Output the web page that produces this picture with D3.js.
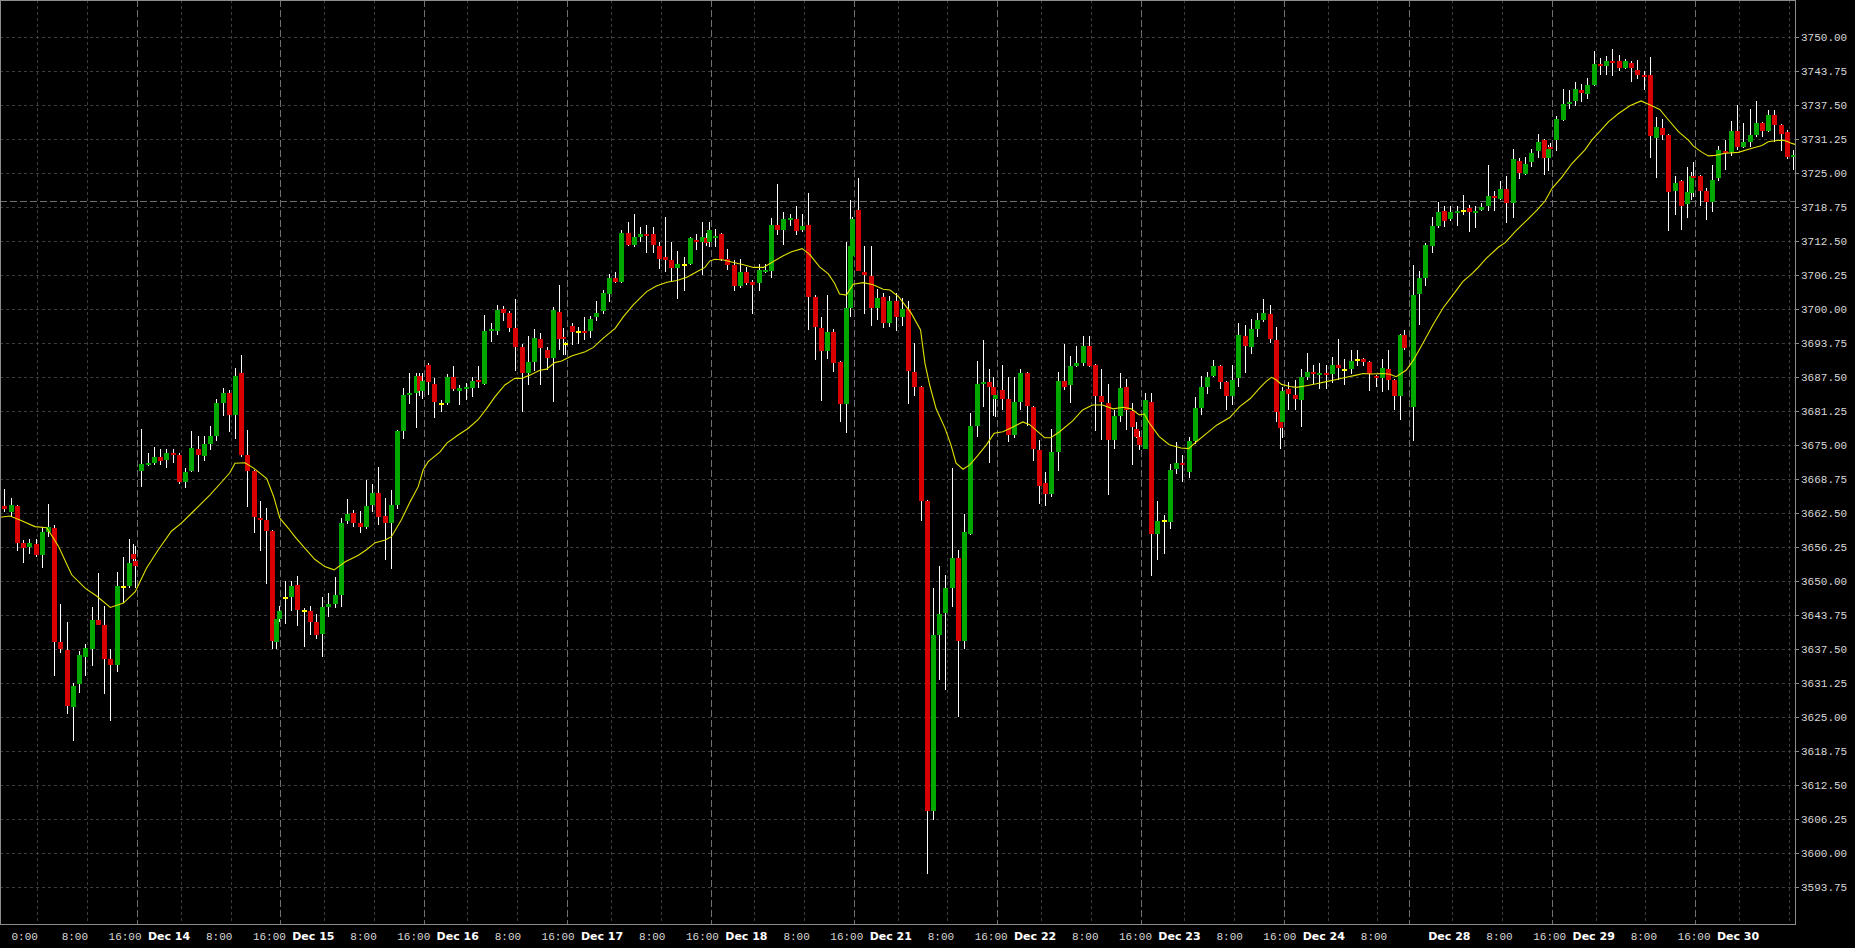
<!DOCTYPE html>
<html><head><meta charset="utf-8">
<script src="https://cdn.jsdelivr.net/npm/d3@7"></script>
<style>
html,body{margin:0;padding:0;background:#000;overflow:hidden}
svg{display:block}
</style></head><body>
<svg id="chart" width="1855" height="948"></svg>
<script>
// ---------------- DATA ----------------
// hourly bars; one extra half-hour bar squeezed before each 16:00 session break
const halfHourBars = [20.6, 43.6, 66.6, 89.6, 112.6, 135.6, 158.6, 181.6, 204.6, 224.6, 247.6, 270.6];
const closedSlots = [225];
const totalSlots = 288;

const opens = [
3663.9,3662.7,3663.9,3657.1,3656.3,3656.9,3654.8,3659.1,3659.8,3638.8,3637.4,3626.8,3631.2,3636.1,3637.6,3642.9,3642.0,3635.7,3634.6,3649.0,3649.1,3655.0,3653.8,
3670.2,3671.4,3671.8,3672.9,3672.3,3673.6,3673.2,3668.3,3670.3,3674.3,3673.1,3675.3,3676.8,3682.8,3684.7,3680.6,3688.2,3673.2,3670.3,3661.7,3661.3,3659.2,3638.9,3643.0,
3647.0,3647.1,3649.3,3644.5,3644.5,3642.6,3640.3,3645.2,3645.8,3647.5,3661.1,3662.5,3660.8,3660.0,3664.0,3666.2,3662.0,3660.8,3664.1,3677.7,3684.3,3684.7,3687.7,3684.9,
3689.8,3686.3,3682.65,3682.8,3687.5,3685.0,3685.35,3685.6,3687.0,3686.3,3696.0,3696.0,3700.05,3699.3,3696.6,3693.1,3688.2,3690.4,3694.5,3692.5,3691.1,3699.5,3694.8,3693.6,
3697.0,3695.8,3695.95,3696.0,3698.6,3699.6,3702.9,3705.75,3705.0,3714.0,3711.8,3713.3,3713.85,3713.85,3711.6,3709.6,3709.1,3707.6,3708.15,3708.3,3712.7,3712.4,3713.2,3712.4,
3713.2,3713.85,3709.2,3708.15,3704.3,3706.9,3705.1,3704.8,3706.9,3707.05,3715.5,3714.6,3716.5,3716.6,3714.6,3715.5,3702.3,3696.6,3692.4,3695.8,3690.3,3682.6,3700.3,3709.8,
3718.3,3706.85,3706.1,3700.3,3702.3,3697.5,3701.5,3698.5,3700.0,3688.5,3685.7,3664.7,3607.8,3640.2,3644.1,3648.8,3654.35,3639.0,3658.7,3678.6,3686.35,3686.7,3685.7,3683.5,
3685.1,3683.5,3676.9,3682.9,3688.3,3682.0,3674.2,3668.0,3666.1,3673.7,3686.9,3686.1,3689.6,3690.2,3693.2,3689.8,3684.0,3682.8,3675.9,3680.4,3685.7,3681.3,3678.05,3676.6,
3674.4,3683.0,3658.7,3661.0,3660.9,3670.6,3671.7,3670.0,3675.8,3681.85,3685.7,3687.7,3689.6,3686.7,3684.1,3687.4,3695.1,3693.1,3696.4,3698.0,3699.1,3694.4,3681.2,3679.2,
3685.35,3684.25,3683.3,3687.6,3688.5,3687.9,3688.2,3688.1,3689.75,3688.8,3689.0,3690.7,3690.9,3690.3,3687.75,3687.4,3689.0,3687.0,3684.1,3695.3,
3682.1,3702.8,3705.75,3711.6,3715.3,3718.1,3716.6,3717.7,3718.1,3718.6,3717.8,3718.3,3718.9,3720.8,3720.3,3722.2,3719.6,3727.2,3724.9,3727.0,3729.1,3731.1,3727.9,3729.8,
3731.1,3734.8,3737.7,3738.3,3740.3,3739.6,3741.2,3745.1,3744.7,3745.6,3745.6,3744.35,3745.3,3744.0,3743.1,3743.1,3731.5,3733.3,3732.0,3721.75,3723.6,3719.4,3721.4,3724.5,
3724.5,3721.7,3719.7,3724.1,3729.1,3728.9,3732.8,3729.8,3730.75,3732.0,3734.2,3732.8,3735.7,3733.9,3732.6,3728.05
];
const highs = [
3667.0,3665.3,3664.0,3657.6,3657.8,3657.7,3659.9,3664.3,3660.4,3645.9,3642.5,3631.3,3637.1,3638.5,3645.3,3651.6,3645.5,3637.6,3651.7,3654.4,3657.7,3656.9,3656.5,
3678.0,3673.6,3674.6,3674.3,3674.3,3674.3,3673.5,3670.8,3677.6,3676.7,3676.7,3678.5,3683.5,3685.5,3685.2,3689.2,3691.6,3677.8,3670.4,3664.8,3663.4,3659.4,3643.1,3645.5,
3650.1,3650.1,3651.0,3645.0,3645.5,3643.9,3647.2,3647.8,3650.7,3661.6,3665.1,3663.1,3663.0,3668.6,3667.9,3671.1,3665.3,3666.8,3677.9,3685.6,3688.2,3688.35,3688.3,3688.2,
3690.2,3687.4,3683.4,3688.1,3689.6,3686.1,3686.4,3687.5,3689.6,3699.0,3697.5,3700.8,3700.6,3699.6,3701.9,3693.6,3695.1,3696.4,3695.6,3693.1,3700.5,3704.5,3696.5,3694.0,
3697.4,3696.8,3698.5,3698.8,3701.5,3703.55,3706.5,3706.9,3714.6,3716.1,3717.5,3715.1,3715.5,3715.1,3712.4,3717.0,3712.4,3710.7,3709.7,3713.3,3713.85,3716.1,3714.0,3716.1,
3714.7,3714.1,3711.1,3709.1,3709.2,3707.85,3705.4,3708.3,3708.3,3716.85,3723.0,3717.8,3717.6,3719.0,3717.6,3721.3,3702.6,3698.6,3702.6,3696.3,3690.5,3712.4,3720.1,3717.0,
3724.1,3711.6,3711.6,3703.7,3703.0,3702.5,3703.0,3702.0,3701.5,3693.8,3685.9,3664.9,3648.7,3652.9,3651.1,3670.9,3655.8,3662.4,3680.9,3690.5,3694.3,3689.1,3687.5,3684.9,
3689.8,3687.6,3687.6,3689.1,3688.5,3682.2,3676.05,3670.1,3678.0,3688.5,3693.6,3691.4,3693.2,3695.1,3695.1,3690.0,3689.1,3686.35,3681.4,3688.3,3687.2,3682.7,3679.3,3677.6,
3684.7,3684.7,3664.8,3662.1,3671.5,3675.6,3673.2,3676.6,3683.8,3687.7,3688.5,3690.7,3689.8,3686.9,3689.8,3697.4,3697.05,3698.2,3699.3,3701.9,3700.8,3696.8,3681.4,3685.8,
3686.7,3687.0,3689.0,3691.9,3689.8,3690.2,3689.8,3691.3,3694.5,3690.9,3692.5,3692.5,3691.0,3690.5,3687.9,3690.9,3692.5,3687.2,3695.5,3696.2,
3708.1,3707.1,3712.1,3717.0,3719.7,3719.0,3719.0,3719.0,3721.0,3719.2,3719.0,3719.5,3726.5,3721.7,3723.6,3724.5,3729.5,3727.8,3728.0,3729.5,3732.2,3731.3,3730.2,3730.5,
3735.5,3740.5,3740.3,3741.7,3741.5,3742.5,3747.5,3746.25,3746.6,3747.85,3746.75,3746.0,3745.6,3745.8,3743.8,3746.4,3735.3,3735.0,3732.2,3724.5,3723.8,3726.1,3725.3,3727.0,
3724.7,3722.3,3726.5,3730.0,3731.2,3734.6,3737.55,3734.3,3736.8,3738.3,3734.4,3736.6,3736.6,3734.1,3733.0,3729.3
];
const lows = [
3662.7,3661.9,3655.5,3653.4,3655.1,3654.4,3652.5,3658.2,3632.6,3636.8,3625.6,3620.7,3629.5,3632.5,3634.4,3641.9,3629.3,3624.4,3633.4,3645.95,3648.7,3653.3,3648.7,
3667.4,3671.2,3671.4,3671.4,3670.8,3671.7,3667.9,3667.2,3670.0,3670.0,3672.2,3674.1,3675.7,3680.4,3677.5,3676.2,3672.9,3663.7,3658.8,3655.5,3649.5,3637.5,3637.5,3642.5,
3642.2,3644.6,3641.8,3638.0,3640.1,3639.3,3636.1,3643.5,3645.0,3645.3,3660.5,3660.0,3658.8,3659.6,3662.8,3660.3,3653.9,3652.2,3663.2,3676.2,3682.6,3678.2,3684.0,3683.6,
3684.2,3680.0,3681.1,3682.4,3684.9,3682.4,3683.3,3683.8,3685.6,3686.0,3693.9,3695.3,3697.9,3695.9,3688.7,3681.2,3686.0,3688.7,3686.1,3688.9,3682.9,3692.6,3691.6,3691.6,
3693.5,3693.6,3694.4,3694.7,3697.9,3699.1,3701.35,3704.8,3704.8,3711.6,3711.5,3712.4,3710.4,3710.4,3707.4,3706.9,3705.0,3701.9,3703.4,3708.1,3710.9,3706.3,3711.6,3711.5,
3711.4,3708.9,3707.2,3703.4,3704.0,3704.5,3699.1,3703.4,3706.6,3705.7,3713.7,3711.8,3715.3,3713.7,3714.3,3696.2,3690.7,3683.2,3690.9,3688.5,3679.2,3677.2,3698.6,3709.5,
3707.0,3699.1,3696.9,3698.0,3696.5,3696.8,3696.0,3697.0,3682.55,3684.0,3661.05,3596.1,3606.1,3631.8,3630.1,3645.2,3625.1,3637.6,3658.5,3676.6,3682.0,3671.7,3680.4,3680.2,
3681.4,3675.6,3676.4,3681.4,3678.5,3672.1,3664.2,3663.8,3665.5,3670.25,3685.25,3682.8,3689.4,3689.6,3689.4,3677.7,3675.9,3665.8,3674.4,3679.3,3677.9,3671.4,3676.3,3674.2,
3674.3,3650.95,3654.0,3655.0,3659.6,3669.8,3668.2,3669.0,3675.3,3680.6,3684.4,3687.5,3685.4,3681.4,3682.35,3685.65,3688.2,3691.8,3695.0,3697.7,3693.75,3679.2,3674.4,3676.3,
3681.5,3681.5,3678.4,3687.0,3686.3,3685.4,3685.4,3686.4,3687.0,3686.1,3688.1,3689.6,3689.5,3684.9,3685.8,3684.8,3685.2,3681.4,3679.65,3692.5,
3675.85,3697.1,3704.3,3710.4,3715.0,3715.2,3716.3,3715.4,3717.3,3714.3,3715.0,3718.0,3718.1,3718.1,3720.1,3715.9,3716.8,3724.0,3724.7,3726.2,3727.9,3724.7,3725.5,3729.2,
3729.1,3734.6,3736.8,3737.4,3738.2,3738.65,3741.0,3743.1,3743.1,3742.9,3743.8,3744.2,3741.7,3742.3,3740.3,3727.9,3724.2,3731.1,3714.45,3717.4,3714.6,3716.7,3720.1,3720.7,
3718.9,3716.4,3717.9,3723.6,3725.6,3728.2,3729.3,3729.6,3729.8,3731.7,3731.7,3732.6,3730.75,3729.1,3727.7,3725.6
];
const closes = [
3663.2,3664.0,3657.1,3656.2,3657.0,3654.8,3659.1,3659.9,3638.9,3637.6,3627.1,3630.8,3636.5,3637.7,3642.9,3642.0,3635.7,3634.6,3649.1,3649.0,3653.3,3654.1,3652.8,
3671.6,3671.8,3672.9,3672.2,3673.6,3673.2,3668.3,3670.1,3674.5,3673.2,3675.2,3676.7,3682.8,3684.7,3680.5,3687.8,3673.2,3670.3,3661.8,3661.3,3659.2,3639.1,3643.1,3644.6,
3647.0,3649.1,3644.7,3644.5,3642.6,3640.1,3645.2,3645.8,3647.5,3660.8,3662.4,3660.8,3659.9,3663.8,3666.2,3661.9,3660.8,3664.1,3677.7,3684.2,3684.7,3687.7,3685.0,3686.8,
3686.7,3682.9,3682.65,3687.5,3685.4,3685.5,3685.7,3686.9,3686.7,3696.0,3696.4,3699.9,3699.4,3696.6,3693.1,3688.2,3690.3,3694.8,3692.9,3691.1,3699.9,3694.6,3694.5,3693.6,
3695.9,3695.8,3695.7,3698.2,3699.3,3703.0,3705.75,3705.0,3714.0,3711.8,3713.3,3713.8,3713.5,3711.8,3709.25,3709.1,3707.6,3708.3,3708.15,3713.1,3712.4,3713.3,3712.1,3714.6,
3713.5,3709.2,3708.15,3704.3,3706.9,3704.8,3704.5,3707.2,3707.3,3715.5,3714.6,3716.6,3716.8,3714.4,3715.3,3702.3,3696.8,3692.4,3695.8,3690.2,3682.6,3700.2,3711.6,3716.6,
3707.1,3706.3,3700.3,3702.1,3697.5,3701.5,3698.5,3700.0,3688.6,3685.8,3664.7,3607.8,3640.2,3643.9,3648.7,3654.35,3639.0,3659.0,3678.6,3686.35,3686.7,3685.7,3684.3,3684.3,
3683.5,3676.9,3683.0,3688.3,3682.2,3674.3,3667.55,3666.1,3673.8,3686.9,3685.8,3689.6,3690.2,3693.2,3689.6,3684.0,3682.9,3675.9,3680.4,3685.6,3681.5,3678.4,3676.6,3675.0,
3683.3,3658.7,3661.1,3661.0,3670.45,3671.7,3671.5,3675.8,3681.85,3685.7,3687.6,3689.6,3686.7,3684.1,3687.0,3695.3,3693.3,3696.4,3698.0,3699.3,3694.5,3681.2,3678.1,3685.0,
3684.4,3683.5,3687.55,3688.5,3688.2,3688.2,3687.9,3689.75,3689.3,3688.8,3690.5,3690.7,3690.4,3688.1,3687.4,3689.2,3687.0,3684.1,3695.3,3692.95,
3702.6,3705.8,3711.8,3715.3,3717.9,3716.2,3717.9,3718.1,3718.1,3717.9,3718.1,3718.75,3720.8,3720.4,3722.2,3719.6,3727.6,3725.1,3726.8,3728.7,3730.75,3727.9,3729.5,3729.5,
3734.9,3737.7,3738.1,3740.5,3739.8,3741.2,3745.1,3744.8,3745.6,3745.3,3744.35,3745.6,3744.35,3743.1,3742.8,3731.85,3733.45,3732.0,3721.6,3723.15,3719.0,3721.6,3724.5,3724.25,
3721.7,3719.7,3723.76,3729.3,3728.7,3732.8,3729.8,3730.75,3732.0,3734.2,3732.8,3735.7,3733.9,3732.3,3728.0,3728.36
];

// moving average: bar-slot position and value
const maSlots = [-0.7,0.9,2.5,4.9,6.8,8.7,10.8,13.0,14.8,17.0,19.1,21.0,22.8,24.7,26.8,28.4,30.1,33.0,34.9,36.2,37.0,38.6,40.0,42.1,43.2,44.2,45.6,46.6,
48.2,49.8,51.4,52.9,54.7,56.8,58.1,59.5,61.1,62.1,63.7,65.1,66.4,67.2,68.0,69.9,71.0,72.8,74.4,76.0,77.4,78.7,80.3,81.9,83.0,84.3,85.9,87.0,88.3,89.4,91.0,93.2,
94.5,96.1,98.0,99.3,100.9,103.05,104.6,106.3,107.9,109.5,111.1,112.4,113.2,114.0,115.4,117.0,118.6,120.2,121.8,123.3,124.9,126.3,128.0,129.2,130.8,132.2,133.2,134.0,135.1,136.2,137.8,139.4,141.0,142.1,
143.5,145.5,147.0,147.7,148.5,149.5,150.9,151.9,152.7,153.8,154.9,156.2,157.5,158.8,160.2,161.5,163.4,164.5,165.8,166.9,167.9,169.3,171.4,173.0,174.6,176.2,177.9,179.5,180.8,182.1,182.9,183.7,185.3,186.9,
188.8,190.0,191.3,192.9,194.5,196.6,198.2,199.9,201.5,202.5,203.3,204.1,204.9,206.3,207.3,208.9,210.5,212.1,213.7,215.3,216.9,218.0,219.3,221.2,222.3,223.3,224.9,226.1,227.6,229.2,230.8,232.4,234.0,235.6,
236.3,237.8,239.7,240.8,242.4,244.3,245.9,247.2,248.3,249.9,251.5,253.6,254.7,255.8,257.4,259.0,260.8,262.6,263.8,265.6,267.0,268.6,270.2,271.0,272.4,273.4,274.5,276.1,278.2,280.4,282.0,283.0,284.1,285.2,286.0,286.8,287.6];
const maValues = [3661.76,3662.0,3661.27,3660.05,3659.86,3656.4,3651.2,3648.7,3647.3,3645.2,3646.0,3648.1,3652.4,3655.8,3659.2,3660.7,3662.6,3665.9,3668.3,3670.0,3671.7,3671.8,3670.8,3668.9,3665.6,3661.6,3659.7,3658.2,
3656.1,3654.05,3652.7,3652.1,3653.6,3654.8,3655.8,3657.1,3657.6,3658.2,3661.3,3664.6,3667.4,3670.5,3672.0,3673.8,3675.4,3676.9,3678.1,3679.7,3681.8,3683.9,3686.1,3687.3,3687.3,3687.9,3688.8,3689.0,3690.2,3690.5,3691.4,3692.2,
3693.0,3694.7,3696.5,3698.6,3700.8,3703.25,3704.3,3704.96,3705.3,3705.9,3706.9,3707.7,3708.9,3709.2,3709.07,3708.6,3708.2,3707.7,3707.7,3708.75,3709.8,3710.6,3711.15,3710.1,3707.8,3706.5,3704.8,3702.8,3702.6,3704.6,3704.9,3704.5,3703.7,3703.55,
3702.3,3699.3,3696.2,3690.1,3685.9,3681.7,3678.2,3675.0,3671.7,3670.6,3671.4,3673.15,3675.0,3677.2,3677.5,3678.2,3679.3,3678.8,3677.5,3676.4,3676.4,3677.5,3679.5,3681.5,3682.4,3682.4,3681.7,3682.0,3681.7,3680.6,3680.75,3679.1,3676.6,3675.1,
3674.5,3674.4,3675.7,3677.2,3678.7,3680.1,3682.1,3683.6,3685.65,3686.8,3687.5,3687.0,3686.2,3685.8,3685.65,3685.96,3686.3,3686.7,3687.1,3687.5,3687.9,3688.2,3688.1,3688.2,3688.05,3687.6,3688.8,3690.7,3693.75,3697.1,3700.2,3702.6,3705.1,3706.7,
3707.5,3709.4,3711.4,3712.25,3714.3,3716.4,3718.25,3719.9,3722.2,3724.3,3726.8,3729.3,3731.1,3732.5,3734.5,3736.0,3737.4,3738.3,3737.7,3736.75,3734.8,3732.65,3731.1,3730.0,3728.85,3728.2,3728.3,3728.7,3728.85,3729.6,3730.1,3730.8,3731.0,3731.1,3730.9,3730.5,3730.2];

const priceTicks = [3593.75,3600.00,3606.25,3612.50,3618.75,3625.00,3631.25,3637.50,3643.75,3650.00,3656.25,3662.50,3668.75,3675.00,3681.25,3687.50,3693.75,3700.00,3706.25,3712.50,3718.75,3725.00,3731.25,3737.50,3743.75,3750.00];

const timeTickSlots = [6,14,22,29,37,45,52,60,68,75,83,91,98,106,114,121,129,137,144,152,160,167,175,183,190,198,206,213,221,226,233,241,249,256,264,272,279,287];
const timeTickLabels = ["0:00","8:00","16:00","Dec 14","8:00","16:00","Dec 15","8:00","16:00","Dec 16","8:00","16:00","Dec 17","8:00","16:00","Dec 18","8:00","16:00","Dec 21","8:00","16:00","Dec 22","8:00","16:00","Dec 23","8:00","16:00","Dec 24","8:00","","Dec 28","8:00","16:00","Dec 29","8:00","16:00","Dec 30",""];
const sessionBreakSlots = [22,45,68,91,114,137,160,183,206,226,249,272];
const priceLine = 3720.0;

// ---------------- LAYOUT ----------------
const W = 1855, H = 948;
const plotRight = 1795, plotBottom = 924;
const svg = d3.select("#chart");
svg.append("rect").attr("width", W).attr("height", H).attr("fill", "#000");

// bar times
const regular = d3.range(totalSlots).filter(s => !closedSlots.includes(s));
const barTimes = regular.concat(halfHourBars).sort((a, b) => a - b);
const bars = barTimes.map((t, i) => ({t, o: opens[i], h: highs[i], l: lows[i], c: closes[i]}))
  .filter(d => d.o != null);

const x = d3.scaleLinear().domain([0, totalSlots]).range([0, plotRight]);
const y = d3.scaleLinear().domain([3587.0, 3756.86]).range([plotBottom, 0]);
const labelX = d3.scaleLinear().domain([0, totalSlots]).range([-13, plotRight - 0.5]);
const centerOffset = 0.7;

svg.append("defs").append("clipPath").attr("id", "plotClip")
  .append("rect").attr("x", 0).attr("y", 0).attr("width", plotRight).attr("height", plotBottom);

const grid = svg.append("g").attr("shape-rendering", "crispEdges");
grid.selectAll("line.h").data(priceTicks).join("line")
  .attr("x1", 0).attr("x2", plotRight)
  .attr("y1", d => Math.round(y(d)) + 0.5).attr("y2", d => Math.round(y(d)) + 0.5)
  .attr("stroke", "#3d3d3d").attr("stroke-dasharray", "3,3");
grid.selectAll("line.v").data(timeTickSlots).join("line")
  .attr("x1", d => Math.round(x(d)) + 0.5).attr("x2", d => Math.round(x(d)) + 0.5)
  .attr("y1", 0).attr("y2", plotBottom)
  .attr("stroke", d => sessionBreakSlots.includes(d) ? "#6e6e6e" : "#3d3d3d")
  .attr("stroke-dasharray", d => sessionBreakSlots.includes(d) ? "7,3" : "3,3");

// price line
grid.append("line")
  .attr("x1", 0).attr("x2", plotRight)
  .attr("y1", Math.round(y(priceLine)) + 0.5).attr("y2", Math.round(y(priceLine)) + 0.5)
  .attr("stroke", "#6e6e6e").attr("stroke-dasharray", "7,3");

// candles
const plot = svg.append("g").attr("clip-path", "url(#plotClip)");
const cg = plot.append("g").attr("shape-rendering", "crispEdges");
const cx = d => Math.round(x(d.t + centerOffset));
cg.selectAll("line.wick").data(bars).join("line")
  .attr("x1", d => cx(d) + 0.5).attr("x2", d => cx(d) + 0.5)
  .attr("y1", d => y(d.h)).attr("y2", d => y(d.l))
  .attr("stroke", "#ffffff").attr("stroke-width", 1);
cg.selectAll("rect.body").data(bars).join("rect")
  .attr("x", d => cx(d) - 2)
  .attr("width", 5)
  .attr("y", d => {
    if (d.o === d.c) return Math.round(y(d.c)) - 1;
    const top = y(Math.max(d.o, d.c)), bot = y(Math.min(d.o, d.c));
    return bot - top < 2 ? (top + bot) / 2 - 1 : top;
  })
  .attr("height", d => {
    if (d.o === d.c) return 2;
    return Math.max(2, y(Math.min(d.o, d.c)) - y(Math.max(d.o, d.c)));
  })
  .attr("fill", d => d.o === d.c ? "#ffff00" : (d.c > d.o ? "#00a800" : "#d80000"));

// moving average
const maPts = maSlots.map((s, i) => [s, maValues[i]]);
plot.append("path").datum(maPts)
  .attr("d", d3.line().x(d => x(d[0] + centerOffset)).y(d => y(d[1])))
  .attr("fill", "none").attr("stroke", "#e2e200").attr("stroke-width", 1.1);

// frame
svg.append("rect").attr("x", 0.5).attr("y", 0.5).attr("width", plotRight).attr("height", plotBottom)
  .attr("fill", "none").attr("stroke", "#8c8c8c").attr("shape-rendering", "crispEdges");

// right axis
const ra = svg.append("g");
ra.selectAll("line").data(priceTicks).join("line")
  .attr("x1", plotRight + 0.5).attr("x2", plotRight + 4)
  .attr("y1", d => Math.round(y(d)) + 0.5).attr("y2", d => Math.round(y(d)) + 0.5)
  .attr("stroke", "#8c8c8c").attr("shape-rendering", "crispEdges");
ra.selectAll("text").data(priceTicks).join("text")
  .attr("x", plotRight + 6).attr("y", d => y(d))
  .attr("dy", "0.35em")
  .attr("font-family", "'Liberation Mono', 'DejaVu Sans Mono', monospace")
  .attr("font-size", 11).attr("fill", "#d8d8d8")
  .text(d => d.toFixed(2));

// bottom axis labels
const ba = svg.append("g");
ba.selectAll("text").data(timeTickSlots.map((s, i) => ({s, label: timeTickLabels[i]})).filter(d => d.label))
  .join("text")
  .attr("x", d => labelX(d.s))
  .attr("y", plotBottom + 16)
  .attr("text-anchor", "middle")
  .attr("font-family", d => d.label.startsWith("Dec") ? "'DejaVu Sans', sans-serif" : "'Liberation Mono', 'DejaVu Sans Mono', monospace")
  .attr("font-weight", d => d.label.startsWith("Dec") ? "bold" : "normal")
  .attr("font-size", 11)
  .attr("fill", d => d.label.startsWith("Dec") ? "#ffffff" : "#d8d8d8")
  .text(d => d.label);
</script>
</body></html>
